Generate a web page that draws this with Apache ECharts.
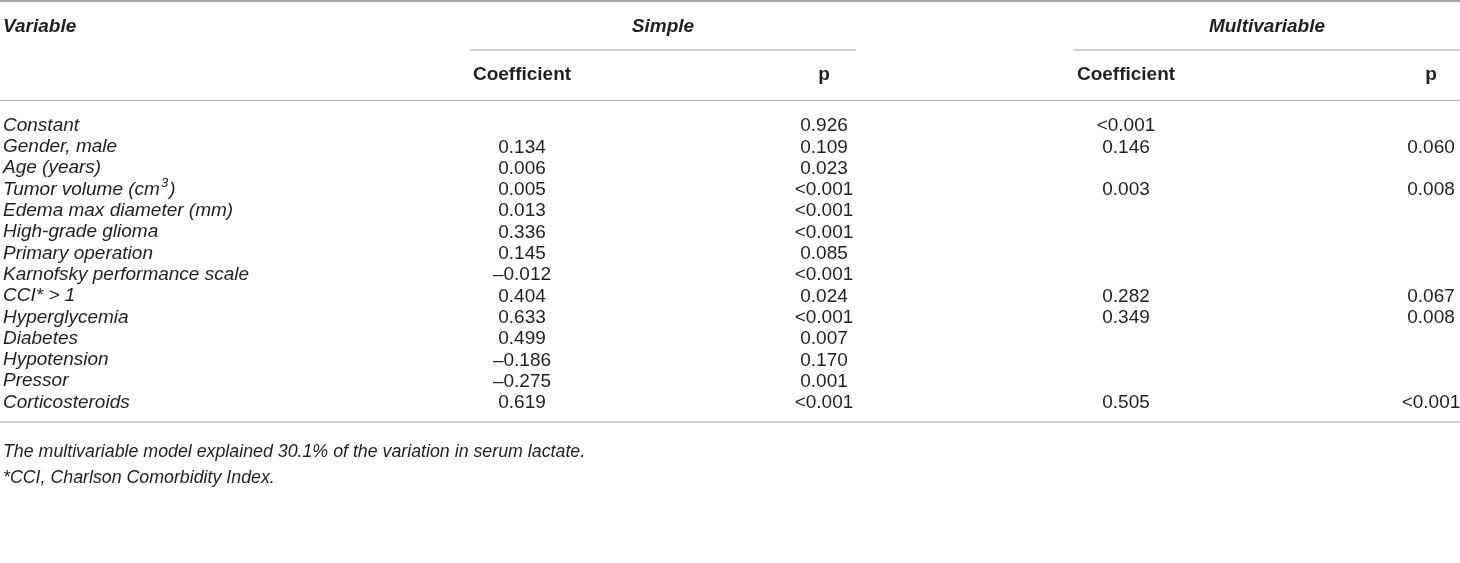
<!DOCTYPE html>
<html>
<head>
<meta charset="utf-8">
<script src="https://cdn.jsdelivr.net/npm/echarts@6/dist/echarts.min.js"></script>
<style>
    html, body {margin: 0; padding: 0; background: #fff;}
    #main {width: 1460px; height: 563px;}
</style>
</head>
<body>
<div id="main"></div>
<script>
// row labels (first column of the table)
var variables = [
    'Constant', 'Gender, male', 'Age (years)', 'Tumor volume (cm³)', 'Edema max diameter (mm)',
    'High-grade glioma', 'Primary operation', 'Karnofsky performance scale', 'CCI* > 1',
    'Hyperglycemia', 'Diabetes', 'Hypotension', 'Pressor', 'Corticosteroids'
];
// simple regression
var simpleCoef = ['', '0.134', '0.006', '0.005', '0.013', '0.336', '0.145', '–0.012', '0.404',
    '0.633', '0.499', '–0.186', '–0.275', '0.619'];
var simpleP = ['0.926', '0.109', '0.023', '<0.001', '<0.001', '<0.001', '0.085', '<0.001', '0.024',
    '<0.001', '0.007', '0.170', '0.001', '<0.001'];
// multivariable regression
var multiCoef = ['<0.001', '0.146', '', '0.003', '', '', '', '', '0.282', '0.349', '', '', '', '0.505'];
var multiP = ['', '0.060', '', '0.008', '', '', '', '', '0.067', '0.008', '', '', '', '<0.001'];
var columnHeads = ['Coefficient', 'p', 'Coefficient', 'p'];
var groupHeads = ['Simple', 'Multivariable'];
var footnotes = [
    'The multivariable model explained 30.1% of the variation in serum lactate.',
    '*CCI, Charlson Comorbidity Index.'
];

var FONT = '"Liberation Sans", Arial, Helvetica, sans-serif';
var TEXT_COLOR = '#231f20';
var LINE_COLOR = '#a8a8a8';
var colX = [522, 824, 1126, 1431];   // column centres in px (x axis runs 0..1460)

var chart = echarts.init(document.getElementById('main'), null, {renderer: 'canvas'});

// one scatter series per numeric column, invisible symbol + centered label
var makeColumn = function (name, values, x) {
    var data = [];
    for (var i = 0; i < values.length; i++) {
        if (values[i] !== '') {
            data.push({value: [x, i], text: values[i]});
        }
    }
    return {
        name: name, type: 'scatter', symbolSize: 0, silent: true,
        itemStyle: {opacity: 1},
        data: data,
        label: {
            show: true, position: 'inside', color: TEXT_COLOR,
            fontFamily: FONT, fontSize: 19,
            formatter: function (p) { return p.data.text; }
        }
    };
};

var hLine = function (x1, x2, y, color, w) {
    return {
        type: 'line', silent: true,
        shape: {x1: x1, y1: y, x2: x2, y2: y},
        style: {stroke: color, lineWidth: w}
    };
};

var text = function (str, x, y, opts) {
    var st = {
        text: str, fill: TEXT_COLOR, fontFamily: FONT, fontSize: 19,
        fontStyle: 'normal', fontWeight: 'normal', align: 'left', verticalAlign: 'middle'
    };
    for (var k in opts) st[k] = opts[k];
    return {type: 'text', silent: true, x: x, y: y, style: st};
};

var option = {
    animation: false,
    backgroundColor: '#fff',
    grid: {left: 0, right: 0, top: 115.4, bottom: 149.4},
    xAxis: {type: 'value', min: 0, max: 1460, show: false},
    yAxis: {
        type: 'category', inverse: true, data: variables,
        axisLine: {show: false}, axisTick: {show: false}, splitLine: {show: false},
        axisLabel: {
            inside: true, interval: 0, margin: 3, align: 'left', color: TEXT_COLOR,
            fontFamily: FONT, fontSize: 19, fontStyle: 'italic',
            padding: [0, 0, 4, 0],
            // superscript for cm³
            formatter: function (v) {
                var parts = v.split('³');
                if (parts.length < 2) return '{t|' + v + '}';
                return '{t|' + parts[0] + '}{sup|3}{t|' + parts[1] + '}';
            },
            rich: {
                t: {fontFamily: FONT, fontSize: 19, fontStyle: 'italic', color: TEXT_COLOR,
                    lineHeight: 22, verticalAlign: 'bottom'},
                sup: {fontFamily: FONT, fontSize: 13, fontStyle: 'italic', color: TEXT_COLOR,
                    lineHeight: 22, verticalAlign: 'top', padding: [0, 1, 0, 1]}
            }
        }
    },
    series: [
        makeColumn('simpleCoef', simpleCoef, colX[0]),
        makeColumn('simpleP', simpleP, colX[1]),
        makeColumn('multiCoef', multiCoef, colX[2]),
        makeColumn('multiP', multiP, colX[3])
    ],
    graphic: [
        hLine(0, 1460, 1, '#8a8a8a', 1.5),
        hLine(470, 856, 50, LINE_COLOR, 1.2),
        hLine(1074, 1460, 50, LINE_COLOR, 1.2),
        hLine(0, 1460, 100.5, LINE_COLOR, 1.2),
        hLine(0, 1460, 422, LINE_COLOR, 1.2),
        text('Variable', 3, 27, {fontWeight: 'bold', fontStyle: 'italic'}),
        text(groupHeads[0], 663, 27, {fontWeight: 'bold', fontStyle: 'italic', align: 'center'}),
        text(groupHeads[1], 1267, 27, {fontWeight: 'bold', fontStyle: 'italic', align: 'center'}),
        text(columnHeads[0], colX[0], 75, {fontWeight: 'bold', align: 'center'}),
        text(columnHeads[1], colX[1], 75, {fontWeight: 'bold', align: 'center'}),
        text(columnHeads[2], colX[2], 75, {fontWeight: 'bold', align: 'center'}),
        text(columnHeads[3], colX[3], 75, {fontWeight: 'bold', align: 'center'}),
        text(footnotes[0], 3, 452, {fontStyle: 'italic', fontSize: 17.8}),
        text(footnotes[1], 3, 478, {fontStyle: 'italic', fontSize: 17.8})
    ]
};

chart.setOption(option);
</script>
</body>
</html>
